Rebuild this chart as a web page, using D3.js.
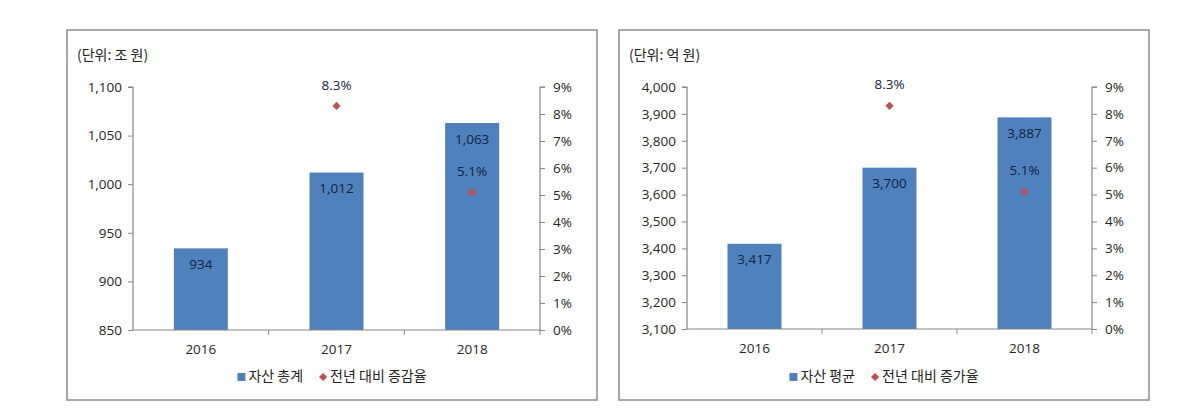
<!DOCTYPE html>
<html><head><meta charset="utf-8">
<script src="https://cdn.jsdelivr.net/npm/d3@7"></script>
<style>
html,body{margin:0;padding:0;background:#fff;}
svg{display:block;}
</style></head>
<body>
<svg id="chart" width="1179" height="417"></svg>
<script>
// ---- data ----
const years = ["2016", "2017", "2018"];
const totalAssets = [934, 1012, 1063];          // 조 원
const averageAssets = [3417, 3700, 3887];       // 억 원
const totalGrowth = [null, 8.3, 5.1];           // %
const averageGrowth = [null, 8.3, 5.1];         // %
const totalTicks = [850, 900, 950, 1000, 1050, 1100];
const averageTicks = [3100, 3200, 3300, 3400, 3500, 3600, 3700, 3800, 3900, 4000];
const pctTicks = [0, 1, 2, 3, 4, 5, 6, 7, 8, 9];
const unitLabels = ["(단위: 조 원)", "(단위: 억 원)"];
const barLegend = ["자산 총계", "자산 평균"];
const rateLegend = ["전년 대비 증감율", "전년 대비 증가율"];

const svg = d3.select("#chart");
const numFont = "'Open Sans', 'Noto Sans', sans-serif";
const korFont = "'Noto Sans CJK KR', 'Noto Sans', sans-serif";
const barColor = "#4F81BD";
const dotColor = "#C0504D";
const axisColor = "#868686";
const textColor = "#262626";
const numSize = "13.5px";
const fmt = d3.format(",");

function panel(o) {
  const g = svg.append("g");
  // frame
  g.append("rect").attr("x", o.box[0]).attr("y", o.box[1])
    .attr("width", o.box[2] - o.box[0]).attr("height", o.box[3] - o.box[1])
    .attr("fill", "none").attr("stroke", "#8c8c8c").attr("stroke-width", 1.5);
  g.append("text").attr("x", o.box[0] + 10).attr("y", 56)
    .attr("dominant-baseline", "middle")
    .style("font-family", korFont).style("font-size", "14px").attr("fill", "#222")
    .text(o.unit);

  const xb = d3.scaleBand().domain(years).range([o.plot[0], o.plot[1]]);
  const y = d3.scaleLinear().domain(o.yDomain).range([o.plot[3], o.plot[2]]);
  const y2 = d3.scaleLinear().domain([0, 9]).range([o.plot[3], o.plot[2]]);

  // bars
  g.selectAll("rect.bar").data(years).enter().append("rect")
    .attr("x", d => xb(d) + xb.bandwidth() / 2 - 27)
    .attr("width", 54)
    .attr("y", (d, i) => y(o.values[i]))
    .attr("height", (d, i) => y(o.yDomain[0]) - y(o.values[i]))
    .attr("fill", barColor);

  // left axis
  const ax = g.append("g").attr("transform", `translate(${o.plot[0]},0)`)
    .call(d3.axisLeft(y).tickValues(o.ticks).tickFormat(fmt).tickSize(5).tickPadding(6));
  // right axis
  const ax2 = g.append("g").attr("transform", `translate(${o.plot[1]},0)`)
    .call(d3.axisRight(y2).tickValues(pctTicks).tickFormat(d => d + "%").tickSize(5).tickPadding(8));
  // bottom axis line & category ticks
  const axb = g.append("g").attr("transform", `translate(0,${o.plot[3]})`)
    .call(d3.axisBottom(xb).tickSize(0).tickPadding(14));
  g.selectAll("line.cat").data(years.slice(1)).enter().append("line")
    .attr("x1", d => xb(d)).attr("x2", d => xb(d))
    .attr("y1", o.plot[3]).attr("y2", o.plot[3] + 5)
    .attr("stroke", axisColor);
  g.append("line").attr("x1", o.plot[1]).attr("x2", o.plot[1]).attr("y1", o.plot[3]).attr("y2", o.plot[3] + 5).attr("stroke", axisColor);

  [ax, ax2, axb].forEach(a => {
    a.select(".domain").attr("stroke", axisColor).attr("stroke-width", 1.2);
    a.selectAll(".tick line").attr("stroke", axisColor);
    a.selectAll(".tick text").style("font-family", numFont).style("font-size", numSize).attr("fill", textColor);
  });
  ax.select(".domain").attr("d", `M-5,${o.plot[2]}H0V${o.plot[3]}`);
  ax2.select(".domain").attr("d", `M5,${o.plot[2]}H0V${o.plot[3]}`);
  axb.select(".domain").attr("d", `M${o.plot[0]},0H${o.plot[1]}`);

  // bar labels
  g.selectAll("text.val").data(years).enter().append("text")
    .attr("x", d => xb(d) + xb.bandwidth() / 2)
    .attr("y", (d, i) => y(o.values[i]) + 17)
    .attr("text-anchor", "middle").attr("dominant-baseline", "middle")
    .style("font-family", numFont).style("font-size", numSize).attr("fill", "#14233d")
    .text((d, i) => fmt(o.values[i]));

  // growth markers
  const pts = years.map((d, i) => ({ d, v: o.growth[i] })).filter(p => p.v != null);
  g.selectAll("path.dot").data(pts).enter().append("path")
    .attr("d", d3.symbol().type(d3.symbolSquare).size(34))
    .attr("transform", p => `translate(${xb(p.d) + xb.bandwidth() / 2},${y2(p.v)}) rotate(45)`)
    .attr("fill", dotColor);
  g.selectAll("text.pct").data(pts).enter().append("text")
    .attr("x", p => xb(p.d) + xb.bandwidth() / 2)
    .attr("y", p => y2(p.v) - 20)
    .attr("text-anchor", "middle").attr("dominant-baseline", "middle")
    .style("font-family", numFont).style("font-size", numSize).attr("fill", "#14233d")
    .text(p => p.v.toFixed(1) + "%");

  // legend
  const lg = g.append("g");
  const ly = 377;
  lg.append("rect").attr("x", 0).attr("y", ly - 4).attr("width", 8).attr("height", 8).attr("fill", barColor);
  const t1 = lg.append("text").attr("x", 11).attr("y", ly).attr("dominant-baseline", "middle")
    .style("font-family", korFont).style("font-size", "14px").attr("fill", "#222").text(o.barName);
  const w1 = t1.node().getComputedTextLength();
  const dx = 11 + w1 + 20;
  lg.append("path").attr("d", d3.symbol().type(d3.symbolSquare).size(34))
    .attr("transform", `translate(${dx},${ly}) rotate(45)`).attr("fill", dotColor);
  const t2 = lg.append("text").attr("x", dx + 7).attr("y", ly).attr("dominant-baseline", "middle")
    .style("font-family", korFont).style("font-size", "14px").attr("fill", "#222").text(o.rateName);
  const total = dx + 7 + t2.node().getComputedTextLength();
  const cx = (o.box[0] + o.box[2]) / 2;
  lg.attr("transform", `translate(${cx - total / 2},0)`);
}

panel({ box: [67, 30, 597, 400], plot: [133, 540, 87, 330], yDomain: [850, 1100], ticks: totalTicks,
  values: totalAssets, growth: totalGrowth, unit: unitLabels[0], barName: barLegend[0], rateName: rateLegend[0] });
panel({ box: [619, 30, 1149, 400], plot: [687, 1092, 87, 329], yDomain: [3100, 4000], ticks: averageTicks,
  values: averageAssets, growth: averageGrowth, unit: unitLabels[1], barName: barLegend[1], rateName: rateLegend[1] });
</script>
</body></html>
